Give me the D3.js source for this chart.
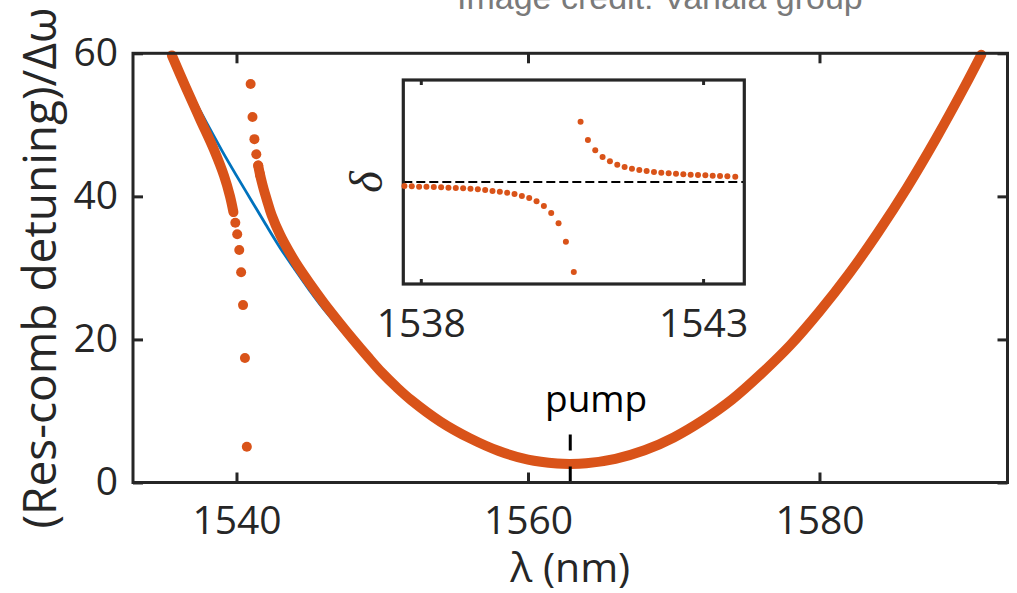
<!DOCTYPE html>
<html>
<head>
<meta charset="utf-8">
<script src="https://cdn.jsdelivr.net/npm/d3@7"></script>
<style>
  body { margin: 0; background: #fff; }
  svg { display: block; }
</style>
</head>
<body>
<svg id="chart" width="1017" height="593"></svg>
<script>
// Unperturbed integrated dispersion (blue curve)
const dispLambda = [1535.5, 1536.4, 1537, 1538, 1539, 1540, 1541, 1542, 1543, 1544, 1545, 1546, 1548, 1550, 1552, 1554, 1556, 1558, 1560, 1562, 1562.9, 1564, 1566, 1568, 1570, 1572, 1574, 1576, 1578, 1580, 1582, 1584, 1586, 1588, 1590, 1591.1];
const dispValue  = [60.0, 56.3, 53.9, 50.1, 46.4, 42.9, 39.5, 36.1, 32.8, 29.8, 26.9, 24.2, 19.4, 15.1, 11.5, 8.5, 6.2, 4.4, 3.2, 2.66, 2.6, 2.69, 3.31, 4.5, 6.3, 8.7, 11.6, 15.2, 19.2, 23.9, 29.1, 34.9, 41.2, 48.1, 55.5, 59.8];

// Measured modes, short-wavelength side of the avoided crossing (densely packed)
const modeLeftLambda = [1535.57, 1536.54, 1537.50, 1538.46, 1539.15, 1539.55, 1539.79];
const modeLeftValue  = [59.7, 55.15, 50.8, 46.5, 42.85, 40.05, 37.8];

// Individually resolved modes around the crossing
const crossLambda = [1539.92, 1540.05, 1540.19, 1540.32, 1540.45, 1540.58, 1540.71,
                     1540.97, 1541.10, 1541.23, 1541.36, 1541.49, 1541.62];
const crossValue  = [36.3, 34.7, 32.5, 29.4, 24.8, 17.4, 5.0,
                     55.7, 51.1, 48.0, 45.9, 44.3, 43.0];

// Measured modes, long-wavelength side (densely packed)
const modeRightLambda = [1541.49, 1541.62, 1541.75, 1541.88, 1542.1, 1542.41, 1543.0, 1543.55, 1544.2, 1545.04, 1546.0, 1547.0, 1548.0, 1549.0, 1550, 1551, 1552, 1554, 1556, 1558, 1560, 1562, 1562.9, 1564, 1566, 1568, 1570, 1572, 1574, 1576, 1578, 1580, 1582, 1584, 1586, 1588, 1590, 1591.1];
const modeRightValue  = [44.3, 43.0, 41.9, 40.9, 39.4, 37.4, 34.6, 32.5, 30.3, 27.8, 25.1, 22.5, 20.0, 17.6, 15.3, 13.3, 11.5, 8.5, 6.2, 4.4, 3.2, 2.66, 2.6, 2.69, 3.31, 4.5, 6.3, 8.7, 11.6, 15.2, 19.2, 23.9, 29.1, 34.9, 41.2, 48.1, 55.5, 59.8];

const xTicks = [1540, 1560, 1580];
const yTicks = [0, 20, 40, 60];
const pumpLambda = 1562.9;
const pumpMarkTop = 6.9;

// Inset: mode shift δ near the crossing
const insetLeftLambda = [1537.71, 1537.84, 1537.97, 1538.10, 1538.23, 1538.36, 1538.49, 1538.62, 1538.75, 1538.88, 1539.01, 1539.14, 1539.27, 1539.40, 1539.53, 1539.66, 1539.79, 1539.92, 1540.05, 1540.18, 1540.31, 1540.44, 1540.57, 1540.71];
const insetLeftDelta  = [-0.039, -0.042, -0.046, -0.046, -0.049, -0.052, -0.056, -0.059, -0.062, -0.066, -0.072, -0.078, -0.088, -0.095, -0.105, -0.118, -0.137, -0.157, -0.189, -0.235, -0.304, -0.405, -0.585, -0.882];
const insetRightLambda = [1540.83, 1540.96, 1541.09, 1541.22, 1541.35, 1541.48, 1541.61, 1541.74, 1541.87, 1542.00, 1542.13, 1542.26, 1542.39, 1542.52, 1542.65, 1542.78, 1542.91, 1543.04, 1543.17, 1543.30, 1543.43, 1543.57];
const insetRightDelta  = [0.591, 0.412, 0.311, 0.245, 0.203, 0.170, 0.147, 0.130, 0.118, 0.108, 0.098, 0.091, 0.085, 0.081, 0.075, 0.072, 0.069, 0.066, 0.062, 0.059, 0.056, 0.052];
const insetTicks = [1538, 1543];

const ORANGE = "#D95319";
const BLUE = "#0072BD";
const AXIS = "#262626";
const FONT = "'Open Sans', 'Noto Sans', sans-serif";
const fmt = d3.format("d");

const svg = d3.select("#chart");

// ---- main axes ----
const x = d3.scaleLinear().domain([1532.9, 1592.9]).range([133, 1007.5]);
const y = d3.scaleLinear().domain([0, 60]).range([482.5, 53.3]);

const zip = (a, b) => a.map((v, i) => [v, b[i]]);
const line = d3.line().x(d => x(d[0])).y(d => y(d[1])).curve(d3.curveCatmullRom.alpha(0.5));

svg.append("path")
  .attr("d", line(zip(dispLambda, dispValue)))
  .attr("fill", "none").attr("stroke", BLUE).attr("stroke-width", 2.8);

svg.append("path")
  .attr("d", line(zip(modeLeftLambda, modeLeftValue)))
  .attr("fill", "none").attr("stroke", ORANGE).attr("stroke-width", 10)
  .attr("stroke-linecap", "round").attr("stroke-linejoin", "round");

svg.append("path")
  .attr("d", line(zip(modeRightLambda, modeRightValue)))
  .attr("fill", "none").attr("stroke", ORANGE).attr("stroke-width", 10)
  .attr("stroke-linecap", "round").attr("stroke-linejoin", "round");

svg.append("g").selectAll("circle")
  .data(zip(crossLambda, crossValue))
  .join("circle")
  .attr("cx", d => x(d[0])).attr("cy", d => y(d[1])).attr("r", 5)
  .attr("fill", ORANGE);

// pump marker
svg.append("line")
  .attr("x1", x(pumpLambda)).attr("x2", x(pumpLambda))
  .attr("y1", y(0)).attr("y2", y(pumpMarkTop))
  .attr("stroke", "#000").attr("stroke-width", 3)
  .attr("stroke-dasharray", "16,16");

svg.append("text")
  .attr("x", 545).attr("y", 412)
  .attr("font-family", FONT).attr("font-size", 37).attr("fill", "#000")
  .text("pump");

function styleAxis(g) {
  g.select(".domain").remove();
  g.selectAll(".tick line").attr("stroke", AXIS).attr("stroke-width", 3);
  g.selectAll(".tick text").attr("fill", AXIS).attr("font-family", FONT).attr("font-size", 39);
}

svg.append("g").attr("transform", `translate(0,${y(0)})`)
  .call(d3.axisBottom(x).tickValues(xTicks).tickFormat(fmt).tickSizeInner(-10).tickSizeOuter(0).tickPadding(24))
  .call(styleAxis);
svg.append("g").attr("transform", `translate(0,${y(60)})`)
  .call(d3.axisTop(x).tickValues(xTicks).tickSizeInner(-10).tickSizeOuter(0).tickFormat(""))
  .call(styleAxis);
svg.append("g").attr("transform", `translate(${x.range()[0]},0)`)
  .call(d3.axisLeft(y).tickValues(yTicks).tickFormat(fmt).tickSizeInner(-10).tickSizeOuter(0).tickPadding(15))
  .call(styleAxis);
svg.append("g").attr("transform", `translate(${x.range()[1]},0)`)
  .call(d3.axisRight(y).tickValues(yTicks).tickSizeInner(-10).tickSizeOuter(0).tickFormat(""))
  .call(styleAxis);

svg.append("rect")
  .attr("x", x.range()[0]).attr("y", y(60))
  .attr("width", x.range()[1] - x.range()[0]).attr("height", y(0) - y(60))
  .attr("fill", "none").attr("stroke", AXIS).attr("stroke-width", 3);

// axis titles
svg.append("text")
  .attr("transform", `translate(56,${(y(0) + y(60)) / 2}) rotate(-90)`)
  .attr("text-anchor", "middle")
  .attr("font-family", FONT).attr("font-size", 46).attr("fill", AXIS)
  .text("(Res-comb detuning)/Δω");

svg.append("text")
  .attr("x", (x.range()[0] + x.range()[1]) / 2).attr("y", 582)
  .attr("text-anchor", "middle")
  .attr("font-family", FONT).attr("font-size", 41).attr("fill", AXIS)
  .text("λ (nm)");

// ---- inset ----
const ix = d3.scaleLinear().domain([1537.69, 1543.73]).range([403.3, 744.3]);
const iy = d3.scaleLinear().domain([-1, 1]).range([284, 80]);

svg.append("rect")
  .attr("x", ix.range()[0]).attr("y", iy(1))
  .attr("width", ix.range()[1] - ix.range()[0]).attr("height", iy(-1) - iy(1))
  .attr("fill", "#fff");

svg.append("line")
  .attr("x1", ix.range()[0]).attr("x2", ix.range()[1])
  .attr("y1", iy(0)).attr("y2", iy(0))
  .attr("stroke", "#000").attr("stroke-width", 2).attr("stroke-dasharray", "9,4");

svg.append("g").attr("transform", `translate(0,${iy(-1)})`)
  .call(d3.axisBottom(ix).tickValues(insetTicks).tickFormat(fmt).tickSizeInner(-5).tickSizeOuter(0).tickPadding(25))
  .call(styleAxis);
svg.append("g").attr("transform", `translate(0,${iy(1)})`)
  .call(d3.axisTop(ix).tickValues(insetTicks).tickSizeInner(-5).tickSizeOuter(0).tickFormat(""))
  .call(styleAxis);

svg.append("rect")
  .attr("x", ix.range()[0]).attr("y", iy(1))
  .attr("width", ix.range()[1] - ix.range()[0]).attr("height", iy(-1) - iy(1))
  .attr("fill", "none").attr("stroke", AXIS).attr("stroke-width", 3.2);

svg.append("g").selectAll("circle")
  .data(zip(insetLeftLambda, insetLeftDelta).concat(zip(insetRightLambda, insetRightDelta)))
  .join("circle")
  .attr("cx", d => ix(d[0])).attr("cy", d => iy(d[1])).attr("r", 3)
  .attr("fill", ORANGE);

svg.append("text")
  .attr("transform", `translate(382,${iy(0)}) rotate(-90)`)
  .attr("text-anchor", "middle")
  .attr("font-family", "'Liberation Serif', serif").attr("font-style", "italic")
  .attr("font-size", 46).attr("fill", AXIS)
  .text("δ");

// credit line along the top edge
svg.append("text")
  .attr("x", 457).attr("y", 8.5)
  .attr("font-family", "'Liberation Sans', Arial, sans-serif").attr("font-size", 34)
  .attr("fill", "#7a7a7a")
  .text("Image credit: Vahala group");
</script>
</body>
</html>
